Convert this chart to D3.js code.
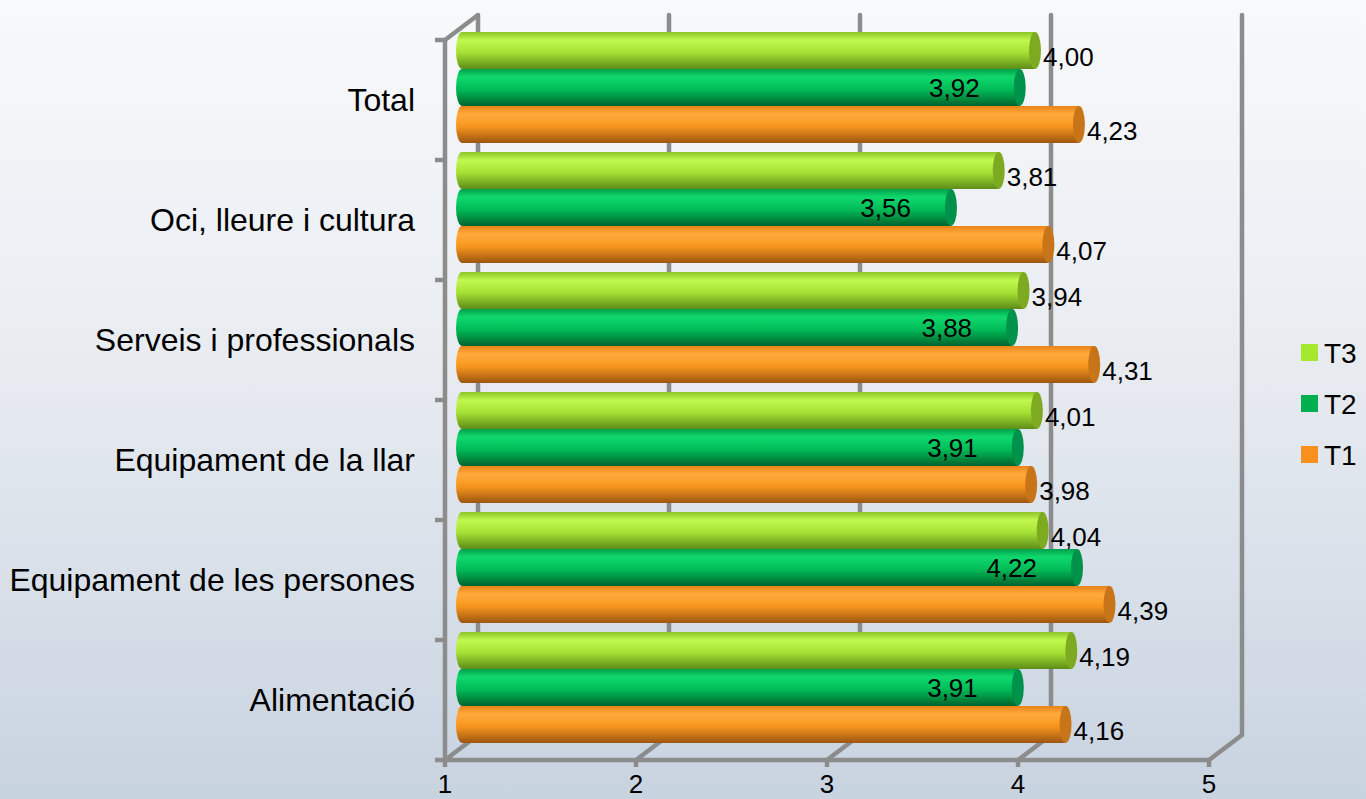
<!DOCTYPE html>
<html>
<head>
<meta charset="utf-8">
<script src="https://cdn.jsdelivr.net/npm/d3@7"></script>
<style>
  body { margin: 0; overflow: hidden; }
  text { font-family: "Liberation Sans", Arial, sans-serif; fill: #000; }
</style>
</head>
<body>
<div id="chart"></div>
<script>
const width = 1366;
const height = 799;

// Data
const categories = ["Total", "Oci, lleure i cultura", "Serveis i professionals",
  "Equipament de la llar", "Equipament de les persones", "Alimentació"];
const seriesNames = ["T3", "T2", "T1"];
const t3Values = [4.00, 3.81, 3.94, 4.01, 4.04, 4.19];
const t2Values = [3.92, 3.56, 3.88, 3.91, 4.22, 3.91];
const t1Values = [4.23, 4.07, 4.31, 3.98, 4.39, 4.16];
const xTicks = [1, 2, 3, 4, 5];

const seriesValues = { T3: t3Values, T2: t2Values, T1: t1Values };

const colors = {
  T3: { top: "#8cc42a", light: "#c2f850", base: "#a6e234", dark: "#5e8c18", cap: "#7eaa22", legend: "#a5e82e" },
  T2: { top: "#00a24c", light: "#10d86c", base: "#00bc58", dark: "#00642c", cap: "#00914a", legend: "#00b050" },
  T1: { top: "#e88418", light: "#ffaa3c", base: "#f8961e", dark: "#9c5610", cap: "#c87418", legend: "#f7901e" }
};

// 3D offsets: back wall and middle of depth (where the cylinders sit)
const back = { dx: 33, dy: -25 };
const mid = { dx: 17, dy: -12 };
const gridColor = "#8c8c8c";

const svg = d3.select("#chart")
  .append("svg")
  .attr("width", width)
  .attr("height", height);

const defs = svg.append("defs");

const bg = defs.append("linearGradient")
  .attr("id", "bg")
  .attr("x1", 0).attr("y1", 0).attr("x2", 0).attr("y2", 1);
bg.append("stop").attr("offset", "0%").attr("stop-color", "#f8f9fb");
bg.append("stop").attr("offset", "45%").attr("stop-color", "#e8ecf1");
bg.append("stop").attr("offset", "100%").attr("stop-color", "#c8d3e0");

seriesNames.forEach(function(s) {
  const g = defs.append("linearGradient")
    .attr("id", "grad-" + s)
    .attr("x1", 0).attr("y1", 0).attr("x2", 0).attr("y2", 1);
  g.append("stop").attr("offset", "0%").attr("stop-color", colors[s].top);
  g.append("stop").attr("offset", "22%").attr("stop-color", colors[s].light);
  g.append("stop").attr("offset", "55%").attr("stop-color", colors[s].base);
  g.append("stop").attr("offset", "100%").attr("stop-color", colors[s].dark);
});

svg.append("rect")
  .attr("width", width)
  .attr("height", height)
  .attr("fill", "url(#bg)");

const xScale = d3.scaleLinear()
  .domain([1, 5])
  .range([445, 1209]);

const yScale = d3.scaleBand()
  .domain(categories)
  .range([40, 760])
  .padding(0);

const innerScale = d3.scaleBand()
  .domain(seriesNames)
  .range([4, yScale.bandwidth() - 5])
  .padding(0);

const plotTop = yScale.range()[0];
const plotBottom = yScale.range()[1];

// back wall gridlines
svg.selectAll(".grid")
  .data(xTicks)
  .enter()
  .append("line")
  .attr("class", "grid")
  .attr("x1", function(d) { return xScale(d) + back.dx; })
  .attr("x2", function(d) { return xScale(d) + back.dx; })
  .attr("y1", plotTop + back.dy)
  .attr("y2", plotBottom + back.dy)
  .attr("stroke", gridColor)
  .attr("stroke-width", 4.5)
  .attr("stroke-linecap", "round");

// floor lines
svg.selectAll(".floor")
  .data(xTicks)
  .enter()
  .append("line")
  .attr("class", "floor")
  .attr("x1", function(d) { return xScale(d); })
  .attr("x2", function(d) { return xScale(d) + back.dx; })
  .attr("y1", plotBottom)
  .attr("y2", plotBottom + back.dy)
  .attr("stroke", gridColor)
  .attr("stroke-width", 4.5);

// top-left edge of the side wall
svg.append("line")
  .attr("x1", xScale(1)).attr("y1", plotTop)
  .attr("x2", xScale(1) + back.dx).attr("y2", plotTop + back.dy)
  .attr("stroke", gridColor)
  .attr("stroke-width", 4.5);

// front axes
svg.append("line")
  .attr("x1", xScale(1)).attr("y1", plotTop)
  .attr("x2", xScale(1)).attr("y2", plotBottom)
  .attr("stroke", gridColor)
  .attr("stroke-width", 4.5);

svg.append("line")
  .attr("x1", xScale(1)).attr("y1", plotBottom)
  .attr("x2", xScale(5)).attr("y2", plotBottom)
  .attr("stroke", gridColor)
  .attr("stroke-width", 4.5);

svg.selectAll(".ytick")
  .data(categories.concat(["end"]))
  .enter()
  .append("line")
  .attr("class", "ytick")
  .attr("x1", xScale(1) - 10)
  .attr("x2", xScale(1))
  .attr("y1", function(d, i) { return plotTop + i * yScale.bandwidth(); })
  .attr("y2", function(d, i) { return plotTop + i * yScale.bandwidth(); })
  .attr("stroke", gridColor)
  .attr("stroke-width", 4.5);

svg.selectAll(".xtick")
  .data(xTicks)
  .enter()
  .append("line")
  .attr("class", "xtick")
  .attr("x1", function(d) { return xScale(d); })
  .attr("x2", function(d) { return xScale(d); })
  .attr("y1", plotBottom)
  .attr("y2", plotBottom + 7)
  .attr("stroke", gridColor)
  .attr("stroke-width", 4.5);

svg.selectAll(".xlabel")
  .data(xTicks)
  .enter()
  .append("text")
  .attr("class", "xlabel")
  .attr("x", function(d) { return xScale(d); })
  .attr("y", 793)
  .attr("text-anchor", "middle")
  .attr("font-size", "26px")
  .text(function(d) { return d; });

svg.selectAll(".catlabel")
  .data(categories)
  .enter()
  .append("text")
  .attr("class", "catlabel")
  .attr("x", 415)
  .attr("y", function(d) { return yScale(d) + yScale.bandwidth() / 2; })
  .attr("dy", "0.35em")
  .attr("text-anchor", "end")
  .attr("font-size", "32px")
  .text(function(d) { return d; });

// Bar data
let chartData = [];
categories.forEach(function(c, i) {
  seriesNames.forEach(function(s) {
    chartData.push({ category: c, series: s, value: seriesValues[s][i] });
  });
});

const rx = 6;
const barH = innerScale.bandwidth();

const bars = svg.selectAll(".bar")
  .data(chartData)
  .enter()
  .append("g")
  .attr("class", "bar")
  .attr("transform", function(d) {
    return "translate(" + mid.dx + "," + (yScale(d.category) + innerScale(d.series) + mid.dy) + ")";
  });

bars.append("ellipse")
  .attr("cx", xScale(1))
  .attr("cy", barH / 2)
  .attr("rx", rx)
  .attr("ry", barH / 2)
  .attr("fill", function(d) { return "url(#grad-" + d.series + ")"; });

bars.append("rect")
  .attr("x", xScale(1))
  .attr("y", 0)
  .attr("width", function(d) { return xScale(d.value) - xScale(1); })
  .attr("height", barH)
  .attr("fill", function(d) { return "url(#grad-" + d.series + ")"; });

bars.append("ellipse")
  .attr("cx", function(d) { return xScale(d.value); })
  .attr("cy", barH / 2)
  .attr("rx", rx)
  .attr("ry", barH / 2)
  .attr("fill", function(d) { return colors[d.series].cap; });

// value labels
const fmt = function(v) { return d3.format(".2f")(v).replace(".", ","); };

bars.append("text")
  .attr("x", function(d) {
    if (d.series === "T2") return xScale(d.value) - 40;
    return xScale(d.value) + rx + 2;
  })
  .attr("y", function(d) {
    if (d.series === "T2") return barH / 2;
    return barH / 2 + 6;
  })
  .attr("dy", "0.35em")
  .attr("text-anchor", function(d) { return d.series === "T2" ? "end" : "start"; })
  .attr("font-size", "26px")
  .text(function(d) { return fmt(d.value); });

// legend
const legend = svg.selectAll(".legend")
  .data(seriesNames)
  .enter()
  .append("g")
  .attr("class", "legend")
  .attr("transform", function(d, i) { return "translate(1301," + (344 + i * 51) + ")"; });

legend.append("rect")
  .attr("width", 17)
  .attr("height", 17)
  .attr("fill", function(d) { return colors[d].legend; });

legend.append("text")
  .attr("x", 23)
  .attr("y", 19)
  .attr("font-size", "28px")
  .text(function(d) { return d; });
</script>
</body>
</html>
